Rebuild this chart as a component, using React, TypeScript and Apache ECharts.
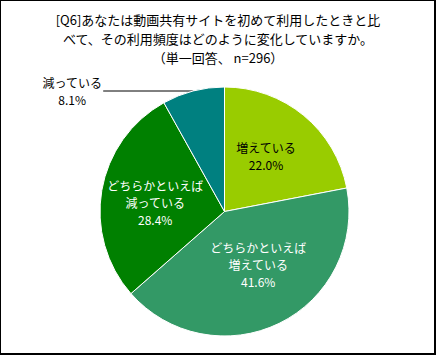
import React, { useEffect, useRef } from "react";
import * as echarts from "echarts";

const titleLines = [
  "[Q6]あなたは動画共有サイトを初めて利用したときと比",
  "べて、その利用頻度はどのように変化していますか。",
  "（単一回答、 n=296）",
];
const categories = ["増えている", "どちらかといえば\n増えている", "どちらかといえば\n減っている", "減っている"];
const values = [22.0, 41.6, 28.4, 8.1];
const colors = ["#99CC00", "#339966", "#008000", "#008080"];
const labelColors = ["#000000", "#ffffff", "#ffffff", "#000000"];

const FONT = '"Noto Sans CJK JP", "Noto Sans", sans-serif';

export default function App() {
  const ref = useRef<HTMLDivElement>(null);
  useEffect(() => {
    if (!ref.current) return;
    const chart = echarts.init(ref.current, undefined, { renderer: "svg" });
    const insideOffsets: number[][] = [[0, -5], [5, -6], [-5, 2]];
    const data = categories.map((name, i) => {
      const item: any = {
        name,
        value: values[i],
        itemStyle: { color: colors[i] },
        label: { color: labelColors[i], offset: insideOffsets[i] },
      };
      if (i === categories.length - 1) {
        item.label = {
          position: "outside",
          color: labelColors[i],
          formatter: (p: any) => `{a|${p.name}}\n{a|${p.value.toFixed(1)}%}`,
          rich: { a: { width: 60, align: "center", fontSize: 12, lineHeight: 17, fontFamily: FONT, color: "#000" } },
          distanceToLabelLine: 1,
        };
        item.labelLine = { show: true, length: 0, length2: 90, smooth: false, lineStyle: { color: "#000", width: 1 } };
      }
      return item;
    });
    chart.setOption({
      animation: false,
      backgroundColor: "#ffffff",
      graphic: [
        {
          type: "text",
          x: 218,
          y: 10,
          style: {
            text: titleLines.join("\n"),
            fontFamily: FONT,
            fontSize: 13,
            lineHeight: 19,
            fill: "#000",
            align: "center",
            verticalAlign: "top",
          },
        },
        { type: "rect", shape: { x: 0, y: 0, width: 436, height: 1 }, style: { fill: "#000" } },
        { type: "rect", shape: { x: 0, y: 0, width: 1, height: 355 }, style: { fill: "#000" } },
        { type: "rect", shape: { x: 434, y: 0, width: 2, height: 355 }, style: { fill: "#000" } },
        { type: "rect", shape: { x: 0, y: 353, width: 436, height: 2 }, style: { fill: "#000" } },
      ],
      series: [
        {
          type: "pie",
          center: [224.5, 211.5],
          radius: [0, 124.5],
          startAngle: 90,
          clockwise: true,
          avoidLabelOverlap: false,
          itemStyle: { borderColor: "#ffffff", borderWidth: 1 },
          label: {
            position: "inside",
            fontFamily: FONT,
            fontSize: 12,
            lineHeight: 17,
            align: "center",
            formatter: (p: any) => `${p.name}\n${p.value.toFixed(1)}%`,
          },
          labelLine: { show: false },
          emphasis: { disabled: true },
          data,
        },
      ],
    });
    return () => chart.dispose();
  }, []);
  return <div ref={ref} style={{ position: "absolute", left: 0, top: 0, width: 436, height: 355 }} />;
}
